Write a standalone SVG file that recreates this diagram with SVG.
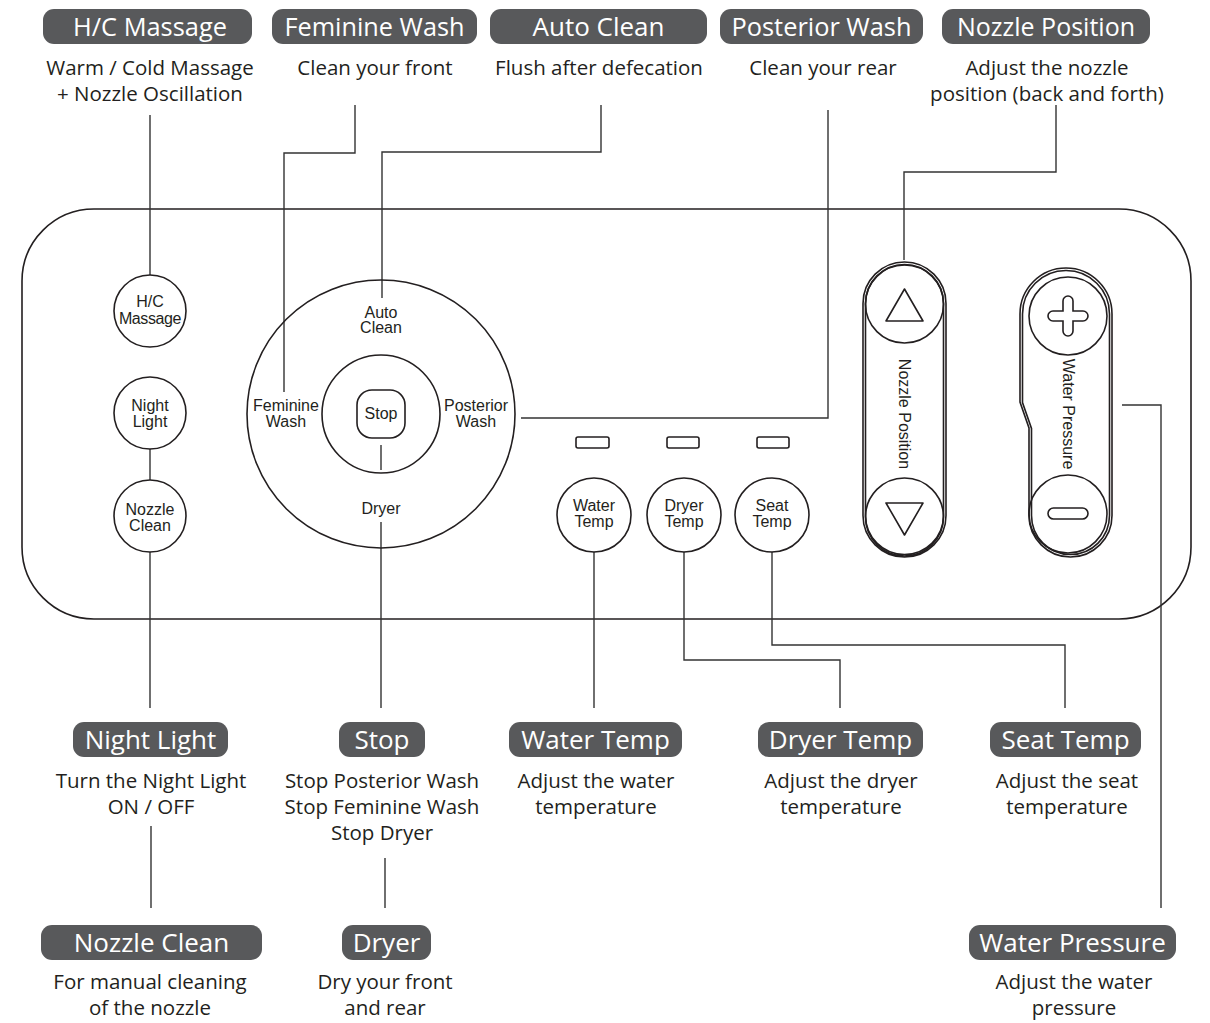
<svg xmlns="http://www.w3.org/2000/svg" width="1210" height="1023" viewBox="0 0 1210 1023">
<style>
.pill{fill:#58595b}
.pt{font-family:"Open Sans","DejaVu Sans",sans-serif;font-size:26px;fill:#ffffff;text-anchor:middle}
.d{font-family:"Open Sans","DejaVu Sans",sans-serif;font-size:20.5px;fill:#231f20;text-anchor:middle}
.p{font-family:"Liberation Sans",Arial,sans-serif;font-size:16px;fill:#231f20;text-anchor:middle}
.s{fill:none;stroke:#231f20;stroke-width:1.6}
.c{fill:none;stroke:#333333;stroke-width:1.4}
</style>
<rect width="1210" height="1023" fill="#ffffff"/>

<g id="panel">
<rect class="s" x="22" y="209" width="1169" height="410" rx="72"/>
</g>

<g id="connectors">
<path class="c" d="M150,115 V275"/>
<path class="c" d="M355,105 V153 H284 V392"/>
<path class="c" d="M601,105 V152 H382 V298"/>
<path class="c" d="M828,110 V418 H521"/>
<path class="c" d="M1056,105 V172 H904 V260"/>
<path class="c" d="M1122,405 H1161 V908"/>
<path class="c" d="M150,449 V480"/>
<path class="c" d="M150,552 V708"/>
<path class="c" d="M381,445 V470 M381,522 V708"/>
<path class="c" d="M594,552 V708"/>
<path class="c" d="M684,552 V660 H840 V708"/>
<path class="c" d="M772,552 V645 H1065 V708"/>
<path class="c" d="M151,826 V908"/>
<path class="c" d="M385,858 V908"/>
</g>

<g id="btn-hc">
<circle class="s" cx="150" cy="311" r="36"/>
<text class="p" x="150" y="307" font-size="15">H/C</text>
<text class="p" x="150" y="324" font-size="14" letter-spacing="-0.4">Massage</text>
</g>
<g id="btn-nightlight">
<circle class="s" cx="150" cy="413" r="36"/>
<text class="p" x="150" y="411">Night</text>
<text class="p" x="150" y="427">Light</text>
</g>
<g id="btn-nozzleclean">
<circle class="s" cx="150" cy="516" r="36"/>
<text class="p" x="150" y="515">Nozzle</text>
<text class="p" x="150" y="531">Clean</text>
</g>

<g id="dial">
<circle class="s" cx="381" cy="414" r="134"/>
<circle class="s" cx="381" cy="414" r="59"/>
<rect class="s" x="357" y="390" width="48" height="48" rx="15"/>
<text class="p" x="381" y="318">Auto</text>
<text class="p" x="381" y="333">Clean</text>
<text class="p" x="286" y="411">Feminine</text>
<text class="p" x="286" y="427">Wash</text>
<text class="p" x="476" y="411">Posterior</text>
<text class="p" x="476" y="427">Wash</text>
<text class="p" x="381" y="419">Stop</text>
<text class="p" x="381" y="514">Dryer</text>
</g>

<g id="leds">
<rect class="s" x="576" y="437" width="33" height="11" rx="2"/>
<rect class="s" x="667" y="437" width="32" height="11" rx="2"/>
<rect class="s" x="757" y="437" width="32" height="11" rx="2"/>
</g>

<g id="btn-watertemp">
<circle class="s" cx="594" cy="515" r="37"/>
<text class="p" x="594" y="511">Water</text>
<text class="p" x="594" y="527">Temp</text>
</g>
<g id="btn-dryertemp">
<circle class="s" cx="684" cy="515" r="37"/>
<text class="p" x="684" y="511">Dryer</text>
<text class="p" x="684" y="527">Temp</text>
</g>
<g id="btn-seattemp">
<circle class="s" cx="772" cy="515" r="37"/>
<text class="p" x="772" y="511">Seat</text>
<text class="p" x="772" y="527">Temp</text>
</g>

<g id="nozzle-position">
<rect class="s" x="863" y="262" width="83" height="295" rx="41.5"/>
<rect class="s" x="865.5" y="264.5" width="78" height="290" rx="39" stroke-width="1.2"/>
<circle class="s" cx="904.5" cy="304" r="39"/>
<circle class="s" cx="904.5" cy="517" r="39"/>
<path class="s" d="M904.5,289 L923,321 L886,321 Z" stroke-linejoin="round"/>
<path class="s" d="M886,503 L923,503 L904.5,535 Z" stroke-linejoin="round"/>
<text class="p" font-size="15" transform="translate(899,414) rotate(90)">Nozzle Position</text>
</g>

<g id="water-pressure">
<path class="s" d="M1020,314 A46,46 0 0 1 1112,314 L1112,515.5 A41.5,41.5 0 0 1 1029,515.5 L1029,428 L1020,402 Z"/>
<path class="s" stroke-width="1.2" d="M1022.5,314 A43.5,43.5 0 0 1 1109.5,314 L1109.5,515.5 A39,39 0 0 1 1031.5,515.5 L1031.5,428.5 L1022.5,402.5 Z"/>
<circle class="s" cx="1068" cy="316" r="39"/>
<circle class="s" cx="1068" cy="514" r="39"/>
<path class="s" d="M1063,311 V301 A5,5 0 0 1 1073,301 V311 H1083 A5,5 0 0 1 1083,321 H1073 V331 A5,5 0 0 1 1063,331 V321 H1053 A5,5 0 0 1 1053,311 Z"/>
<rect class="s" x="1048" y="508" width="40" height="11" rx="5.5"/>
<text class="p" font-size="15" transform="translate(1063,414) rotate(90)">Water Pressure</text>
</g>

<g id="lbl-hc">
<rect class="pill" x="43" y="9" width="209" height="35" rx="11"/>
<text class="pt" x="150" y="36" textLength="154" lengthAdjust="spacingAndGlyphs">H/C Massage</text>
<text class="d" x="150" y="75">Warm / Cold Massage</text>
<text class="d" x="150" y="101">+ Nozzle Oscillation</text>
</g>
<g id="lbl-feminine">
<rect class="pill" x="272" y="9" width="205" height="35" rx="11"/>
<text class="pt" x="374.5" y="36" textLength="180" lengthAdjust="spacingAndGlyphs">Feminine Wash</text>
<text class="d" x="375" y="75">Clean your front</text>
</g>
<g id="lbl-autoclean">
<rect class="pill" x="490" y="9" width="217" height="35" rx="11"/>
<text class="pt" x="598.5" y="36">Auto Clean</text>
<text class="d" x="599" y="75">Flush after defecation</text>
</g>
<g id="lbl-posterior">
<rect class="pill" x="720" y="9" width="203" height="35" rx="11"/>
<text class="pt" x="821.5" y="36" textLength="180" lengthAdjust="spacingAndGlyphs">Posterior Wash</text>
<text class="d" x="823" y="75">Clean your rear</text>
</g>
<g id="lbl-nozzlepos">
<rect class="pill" x="942" y="9" width="208" height="35" rx="11"/>
<text class="pt" x="1046" y="36" textLength="178" lengthAdjust="spacingAndGlyphs">Nozzle Position</text>
<text class="d" x="1047" y="75">Adjust the nozzle</text>
<text class="d" x="1047" y="101">position (back and forth)</text>
</g>

<g id="lbl-nightlight">
<rect class="pill" x="73" y="722" width="155" height="35" rx="11"/>
<text class="pt" x="150.5" y="749">Night Light</text>
<text class="d" x="151" y="788">Turn the Night Light</text>
<text class="d" x="151" y="814">ON / OFF</text>
</g>
<g id="lbl-stop">
<rect class="pill" x="339" y="722" width="86" height="35" rx="11"/>
<text class="pt" x="382" y="749">Stop</text>
<text class="d" x="382" y="788">Stop Posterior Wash</text>
<text class="d" x="382" y="814">Stop Feminine Wash</text>
<text class="d" x="382" y="840">Stop Dryer</text>
</g>
<g id="lbl-watertemp">
<rect class="pill" x="509" y="722" width="173" height="35" rx="11"/>
<text class="pt" x="595.5" y="749">Water Temp</text>
<text class="d" x="596" y="788">Adjust the water</text>
<text class="d" x="596" y="814">temperature</text>
</g>
<g id="lbl-dryertemp">
<rect class="pill" x="758" y="722" width="165" height="35" rx="11"/>
<text class="pt" x="840.5" y="749">Dryer Temp</text>
<text class="d" x="841" y="788">Adjust the dryer</text>
<text class="d" x="841" y="814">temperature</text>
</g>
<g id="lbl-seattemp">
<rect class="pill" x="990" y="722" width="151" height="35" rx="11"/>
<text class="pt" x="1065.5" y="749">Seat Temp</text>
<text class="d" x="1067" y="788">Adjust the seat</text>
<text class="d" x="1067" y="814">temperature</text>
</g>

<g id="lbl-nozzleclean">
<rect class="pill" x="41" y="925" width="221" height="35" rx="11"/>
<text class="pt" x="151.5" y="952">Nozzle Clean</text>
<text class="d" x="150" y="989">For manual cleaning</text>
<text class="d" x="150" y="1015">of the nozzle</text>
</g>
<g id="lbl-dryer">
<rect class="pill" x="342" y="925" width="89" height="35" rx="11"/>
<text class="pt" x="386.5" y="952">Dryer</text>
<text class="d" x="385" y="989">Dry your front</text>
<text class="d" x="385" y="1015">and rear</text>
</g>
<g id="lbl-waterpressure">
<rect class="pill" x="969" y="925" width="207" height="35" rx="11"/>
<text class="pt" x="1072.5" y="952">Water Pressure</text>
<text class="d" x="1074" y="989">Adjust the water</text>
<text class="d" x="1074" y="1015">pressure</text>
</g>
</svg>
